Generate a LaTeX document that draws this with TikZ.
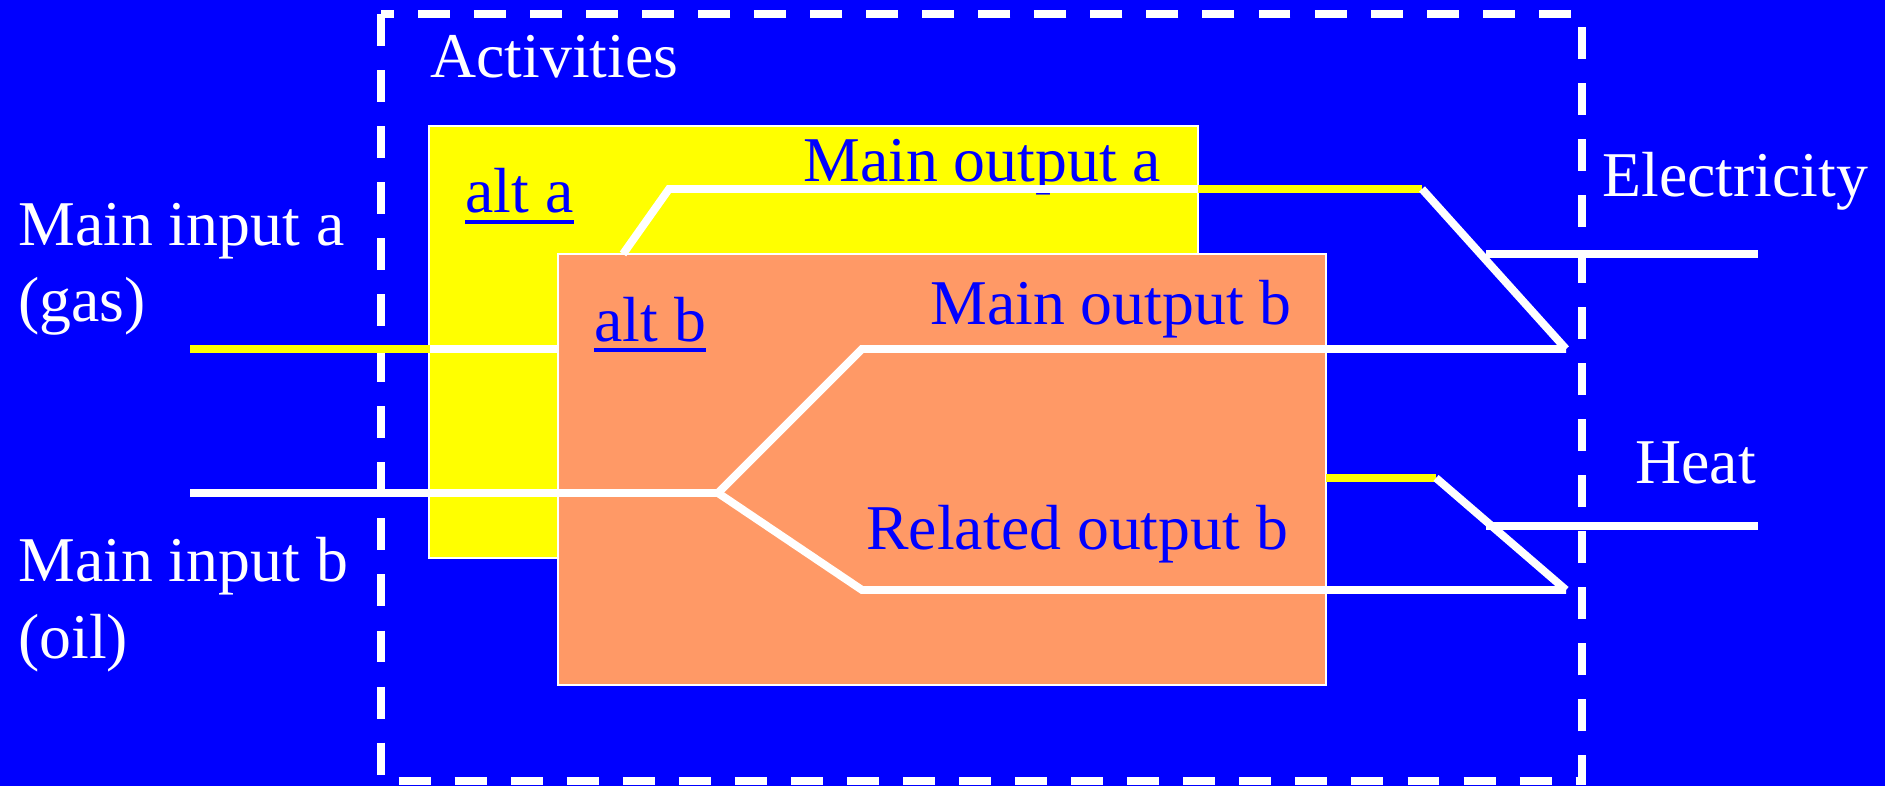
\documentclass[tikz,border=0pt]{standalone}
\usepackage{fontspec}
\setmainfont{Liberation Serif}
\usetikzlibrary{calc}
\definecolor{bgblue}{RGB}{0,0,255}
\definecolor{ayellow}{RGB}{255,255,0}
\definecolor{borange}{RGB}{255,153,102}
\begin{document}
\begin{tikzpicture}[x=0.02cm,y=-0.02cm,
  lbl/.style={anchor=base west, inner sep=0pt, font=\fontsize{36.3}{43}\selectfont},
  wlbl/.style={lbl, text=white},
  blbl/.style={lbl, text=bgblue},
  flow/.style={line width=4.5pt},
  wflow/.style={flow, white},
  yflow/.style={flow, ayellow},
  boxstyle/.style={draw=white, line width=1.1pt},
  frame/.style={draw=white, line width=4.5pt, dash pattern=on 18.2pt off 13.7pt},
  uline/.style={draw=bgblue, line width=2pt}
]
\fill[bgblue] (0,0) rectangle (1885,786);
\useasboundingbox (0,0) rectangle (1885,786);
% activities frame
\draw[frame] (381,14) -- (381,781) -- (1582,781) -- (1582,14) -- cycle;
% boxes
\path[boxstyle, fill=ayellow] (429,126) rectangle (1198,558);
\path[boxstyle, fill=borange] (558,254) rectangle (1326,685);
% labels
\node[wlbl] (act) at (430,78) {Activities};
\node[blbl] (alta) at (465,213) {alt a};
\draw[uline] ($(alta.base west)+(0,9)$) -- ($(alta.base east)+(0,9)$);
\node[blbl] (altb) at (594,342) {alt b};
\draw[uline] ($(altb.base west)+(0,8)$) -- ($(altb.base east)+(0,8)$);
\node[blbl] (moa) at (803,182) {Main output a};
\node[blbl] (mob) at (930,325) {Main output b};
\node[blbl] (rob) at (866,549) {Related output b};
\node[wlbl] (mia) at (18,246) {Main input a};
\node[wlbl] (gas) at (18,322) {(gas)};
\node[wlbl] (mib) at (18,582) {Main input b};
\node[wlbl] (oil) at (18,658) {(oil)};
\node[wlbl] (elec) at (1602,197) {Electricity};
\node[wlbl] (heat) at (1635,484) {Heat};
% flow points
\coordinate (ina0) at (190,349);
\coordinate (ina1) at (430,349);
\coordinate (ina2) at (558,349);
\coordinate (inb0) at (190,493);
\coordinate (split) at (718,493);
\coordinate (ob0) at (862,349);
\coordinate (ob1) at (1566,349);
\coordinate (rb0) at (862,590);
\coordinate (rb1) at (1566,590);
\coordinate (oa0) at (623,254);
\coordinate (oa1) at (669,189);
\coordinate (oa2) at (1198,189);
\coordinate (oa3) at (1422,189);
\coordinate (ro0) at (1326,478);
\coordinate (ro1) at (1436,478);
\coordinate (el0) at (1486,254);
\coordinate (el1) at (1758,254);
\coordinate (he0) at (1486,526);
\coordinate (he1) at (1758,526);
% flows
\draw[yflow] (ina0) -- (ina1);
\draw[wflow] (ina1) -- (ina2);
\draw[wflow] (inb0) -- (split) -- (ob0) -- (ob1);
\draw[wflow] (split) -- (rb0) -- (rb1);
\draw[wflow] (oa0) -- (oa1) -- (oa2);
\draw[yflow] (oa2) -- (oa3);
\draw[wflow] (oa3) -- (ob1);
\draw[yflow] (ro0) -- (ro1);
\draw[wflow] (ro1) -- (rb1);
\draw[wflow] (el0) -- (el1);
\draw[wflow] (he0) -- (he1);
\end{tikzpicture}
\end{document}
